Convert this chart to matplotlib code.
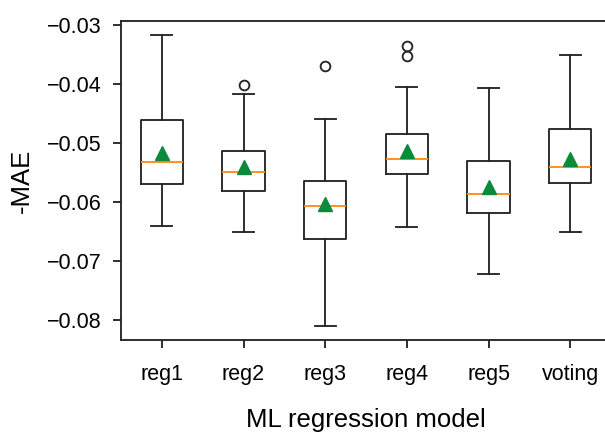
import matplotlib.pyplot as plt

plt.rcParams['font.family'] = ['Liberation Sans', 'DejaVu Sans']

# box statistics
models = ["reg1", "reg2", "reg3", "reg4", "reg5", "voting"]
whis_low = [-0.0641, -0.0651, -0.0810, -0.0643, -0.0722, -0.0651]
q1 = [-0.0570, -0.0581, -0.0662, -0.0552, -0.0619, -0.0567]
median = [-0.0532, -0.0549, -0.0606, -0.0527, -0.0586, -0.0541]
q3 = [-0.0461, -0.0514, -0.0564, -0.0484, -0.0531, -0.0476]
whis_high = [-0.0317, -0.0417, -0.0459, -0.0405, -0.0407, -0.0350]
mean = [-0.0517, -0.0541, -0.0603, -0.0514, -0.0574, -0.0527]
fliers = [[], [-0.0402], [-0.0369], [-0.0335, -0.0353], [], []]

stats = []
for i, name in enumerate(models):
    stats.append(dict(label=name, whislo=whis_low[i], q1=q1[i], med=median[i],
                      q3=q3[i], whishi=whis_high[i], mean=mean[i],
                      fliers=fliers[i]))

fig = plt.figure(figsize=(6.05, 4.38), dpi=100)
ax = fig.add_axes([0.2, 0.2237, 0.81, 0.7283])

line_col = '#262626'
lw = 1.35
ax.bxp(stats, showmeans=True, widths=0.52,
       boxprops=dict(color=line_col, linewidth=lw),
       whiskerprops=dict(color=line_col, linewidth=lw),
       capprops=dict(color=line_col, linewidth=lw),
       medianprops=dict(color='#ff8c1a', linewidth=lw),
       meanprops=dict(marker='^', markerfacecolor='#0a8a3a',
                      markeredgecolor='#0a8a3a', markersize=9.5),
       flierprops=dict(marker='o', markerfacecolor='none',
                       markeredgecolor=line_col, markersize=7,
                       markeredgewidth=lw))

ax.set_xlim(0.5, 6.5)
ax.set_ylim(-0.0834, -0.0293)
ax.set_yticks([-0.08, -0.07, -0.06, -0.05, -0.04, -0.03])

for side in ['left', 'bottom', 'top', 'right']:
    ax.spines[side].set_color(line_col)
    ax.spines[side].set_linewidth(lw)

ax.tick_params(axis='both', labelsize=15.5, length=6, width=lw,
               color=line_col)
ax.tick_params(axis='y', pad=8)
ax.tick_params(axis='x', pad=11)

ax.set_ylabel("-MAE", fontsize=18.5, labelpad=9)
ax.set_xlabel("ML regression model", fontsize=18.5, labelpad=17)

fig.savefig("out.png", dpi=100)
